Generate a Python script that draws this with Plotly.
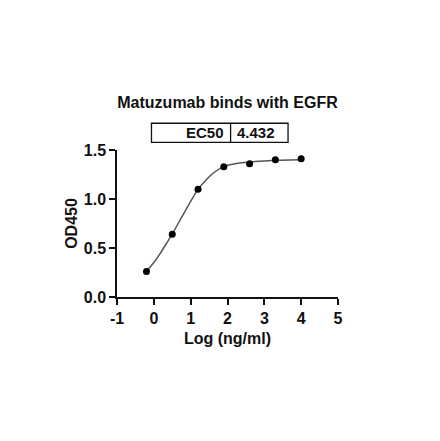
import plotly.graph_objects as go

# measured points (log concentration vs OD450)
log_conc = [-0.2, 0.5, 1.2, 1.9, 2.6, 3.3, 4.0]
od450 = [0.26, 0.64, 1.10, 1.33, 1.36, 1.40, 1.41]

# fitted curve
curve_x = [-0.2, -0.02, 0.16, 0.34, 0.5, 0.66, 0.84, 1.02, 1.2, 1.43, 1.66, 1.9,
           2.24, 2.6, 3.0, 3.3, 3.7, 4.0]
curve_y = [0.263, 0.341, 0.437, 0.546, 0.641, 0.750, 0.869, 0.989, 1.098, 1.200, 1.278, 1.330,
           1.362, 1.377, 1.388, 1.395, 1.399, 1.401]

x_ticks = [-1, 0, 1, 2, 3, 4, 5]
x_tick_labels = ["-1", "0", "1", "2", "3", "4", "5"]
y_ticks = [0.0, 0.5, 1.0, 1.5]
y_tick_labels = ["0.0", "0.5", "1.0", "1.5"]

ec50_label = "EC50"
ec50_value = "4.432"

FONT = "Liberation Sans, Arial, sans-serif"
INK = "#111111"

fig = go.Figure()

fig.add_trace(go.Scatter(x=curve_x, y=curve_y, mode="lines",
                         line=dict(color="#555555", width=1.5, shape="spline", smoothing=0.6),
                         hoverinfo="skip", showlegend=False))
fig.add_trace(go.Scatter(x=log_conc, y=od450, mode="markers",
                         marker=dict(color="black", size=7),
                         cliponaxis=False, showlegend=False))

axis_common = dict(showgrid=False, zeroline=False, showline=True, linecolor=INK, linewidth=1.5,
                   ticks="outside", ticklen=6, tickwidth=1.5, tickcolor=INK, automargin=False,
                   tickfont=dict(family=FONT, size=16, color=INK, weight="bold"))

fig.update_xaxes(range=[-1, 5], tickvals=x_ticks, ticktext=x_tick_labels,
                 title=dict(text="Log (ng/ml)", standoff=7,
                            font=dict(family=FONT, size=16, color=INK, weight="bold")),
                 **axis_common)
fig.update_yaxes(range=[0, 1.5], tickvals=y_ticks, ticktext=y_tick_labels,
                 title=dict(text="OD450", standoff=2,
                            font=dict(family=FONT, size=16, color=INK, weight="bold")),
                 **axis_common)

# EC50 table above the plot
box_left, box_mid, box_right = 0.156, 0.514, 0.774
box_bottom, box_top = 1.0525, 1.182
line_style = dict(color=INK, width=1.3)
fig.add_shape(type="rect", xref="paper", yref="paper", x0=box_left, x1=box_right,
              y0=box_bottom, y1=box_top, line=line_style)
fig.add_shape(type="line", xref="paper", yref="paper", x0=box_mid, x1=box_mid,
              y0=box_bottom, y1=box_top, line=line_style)
fig.add_annotation(xref="paper", yref="paper", x=box_mid - 0.02, y=(box_bottom + box_top) / 2,
                   text=ec50_label, showarrow=False, xanchor="right", yanchor="middle",
                   font=dict(family=FONT, size=15, color=INK, weight="bold"))
fig.add_annotation(xref="paper", yref="paper", x=box_mid + 0.02, y=(box_bottom + box_top) / 2,
                   text=ec50_value, showarrow=False, xanchor="left", yanchor="middle",
                   font=dict(family=FONT, size=15, color=INK, weight="bold"))

# the page body keeps its default 8px margin, so the margins are shifted by it
fig.update_layout(
    width=440, height=441,
    margin=dict(l=109, r=110, t=142, b=152, autoexpand=False),
    paper_bgcolor="white", plot_bgcolor="white",
    title=dict(text="Matuzumab binds with EGFR", x=0.5, xref="paper", xanchor="center",
               y=1 - 94.7 / 441, yanchor="middle",
               font=dict(family=FONT, size=16, color=INK, weight="bold")),
)

fig.write_html("out.html")
